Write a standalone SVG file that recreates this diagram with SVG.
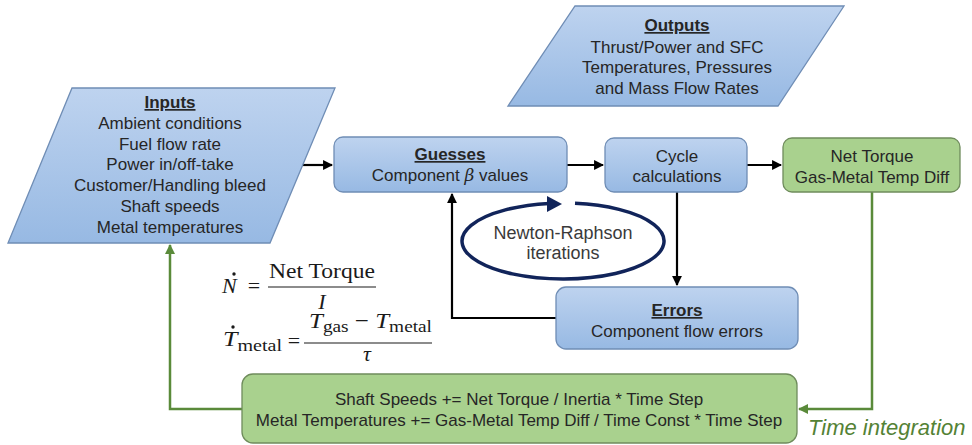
<svg xmlns="http://www.w3.org/2000/svg" width="972" height="445" viewBox="0 0 972 445">
<style>
.t{font-family:"Liberation Sans",Arial,sans-serif;font-size:17px;fill:#262626;text-anchor:middle}
.b{font-weight:bold;text-decoration:underline}
.blue{fill:url(#gb);stroke:#6f8db5;stroke-width:1.3}
.green{fill:#a9d18e;stroke:#6f8c5c;stroke-width:1.3}
.k{fill:none;stroke:#000;stroke-width:2.2}
.g{fill:none;stroke:#5a8a3a;stroke-width:2.5}
.m{font-family:"Liberation Serif","Times New Roman",serif;font-size:22px;fill:#1a1a1a}
.i{font-style:italic}
.s{font-size:17px}
</style>
<defs>
<linearGradient id="gb" x1="0" y1="0" x2="0" y2="1">
<stop offset="0" stop-color="#bed3ef"/>
<stop offset="1" stop-color="#97b9e3"/>
</linearGradient>
<marker id="ak" viewBox="0 0 10 10" refX="9" refY="5" markerWidth="4.5" markerHeight="4.5" orient="auto" markerUnits="strokeWidth">
<path d="M0,0 L10,5 L0,10 z" fill="#000"/>
</marker>
<marker id="ag" viewBox="0 0 10 10" refX="9" refY="5" markerWidth="4" markerHeight="4" orient="auto" markerUnits="strokeWidth">
<path d="M0,0 L10,5 L0,10 z" fill="#5a8a3a"/>
</marker>
</defs>
<rect width="972" height="445" fill="#fff"/>

<g id="connectors">
<path class="k" d="M300,165 H332" marker-end="url(#ak)"/>
<path class="k" d="M567,165 H603" marker-end="url(#ak)"/>
<path class="k" d="M747,165 H781" marker-end="url(#ak)"/>
<path class="k" d="M677,192 V285" marker-end="url(#ak)"/>
<path class="k" d="M556,318 H452 V194" marker-end="url(#ak)"/>
<path class="g" d="M872,192 V409 H799" marker-end="url(#ag)"/>
<path class="g" d="M242,409 H170 V245" marker-end="url(#ag)"/>
</g>

<g id="inputs">
<polygon class="blue" points="72,88 335,88 270,243 8,243"/>
<text class="t b" x="170" y="108">Inputs</text>
<text class="t" x="170" y="129">Ambient conditions</text>
<text class="t" x="170" y="150">Fuel flow rate</text>
<text class="t" x="170" y="170">Power in/off-take</text>
<text class="t" x="170" y="191">Customer/Handling bleed</text>
<text class="t" x="170" y="212">Shaft speeds</text>
<text class="t" x="170" y="233">Metal temperatures</text>
</g>

<g id="outputs">
<polygon class="blue" points="575,6 844,6 778,106 508,106"/>
<text class="t b" x="677" y="31">Outputs</text>
<text class="t" x="677" y="53">Thrust/Power and SFC</text>
<text class="t" x="677" y="73">Temperatures, Pressures</text>
<text class="t" x="677" y="94">and Mass Flow Rates</text>
</g>

<g id="guesses">
<rect class="blue" x="334" y="137" width="233" height="55" rx="9"/>
<text class="t b" x="450" y="160">Guesses</text>
<text class="t" x="450" y="181">Component <tspan style="font-family:'DejaVu Serif',serif;font-style:italic">β</tspan> values</text>
</g>

<g id="cycle">
<rect class="blue" x="605" y="138" width="142" height="54" rx="9"/>
<text class="t" x="677" y="162">Cycle</text>
<text class="t" x="677" y="182">calculations</text>
</g>

<g id="nettorque">
<rect class="green" x="783" y="138" width="177" height="54" rx="9"/>
<text class="t" x="872" y="162">Net Torque</text>
<text class="t" x="872" y="183">Gas-Metal Temp Diff</text>
</g>

<g id="errors">
<rect class="blue" x="556" y="287" width="242" height="62" rx="10"/>
<text class="t b" x="677" y="316">Errors</text>
<text class="t" x="677" y="337">Component flow errors</text>
</g>

<g id="newton">
<path d="M575,203.3 A101,38 0 1 1 549,203.4" fill="none" stroke="#11245a" stroke-width="3.5"/>
<polygon points="562,204 547,196 547,212" fill="#11245a"/>
<text x="563" y="239" style="font-family:'Liberation Sans',Arial,sans-serif;font-size:18px;fill:#3a3a3a;text-anchor:middle">Newton-Raphson</text>
<text x="563" y="259" style="font-family:'Liberation Sans',Arial,sans-serif;font-size:18px;fill:#3a3a3a;text-anchor:middle">iterations</text>
</g>

<g id="integration">
<rect class="green" x="242" y="374" width="555" height="69" rx="11"/>
<text class="t" x="519" y="405">Shaft Speeds += Net Torque / Inertia * Time Step</text>
<text class="t" x="519" y="426">Metal Temperatures += Gas-Metal Temp Diff / Time Const * Time Step</text>
<text x="808" y="435" style="font-family:'Liberation Sans',Arial,sans-serif;font-size:22px;font-style:italic;fill:#548235">Time integration</text>
</g>

<g id="equations">
<text class="m i" x="222" y="293">N</text>
<circle cx="234" cy="274" r="1.7" fill="#1a1a1a"/>
<text class="m" x="254" y="293" text-anchor="middle">=</text>
<line x1="268" y1="287" x2="376" y2="287" stroke="#1a1a1a" stroke-width="1.2"/>
<text class="m" x="322" y="278" text-anchor="middle" textLength="106" lengthAdjust="spacingAndGlyphs">Net Torque</text>
<text class="m i" x="322" y="309" text-anchor="middle">I</text>

<text class="m" x="223" y="346" textLength="59" lengthAdjust="spacingAndGlyphs"><tspan class="i">T</tspan><tspan class="s" dy="5">metal</tspan></text>
<circle cx="233" cy="327" r="1.7" fill="#1a1a1a"/>
<text class="m" x="294" y="348" text-anchor="middle">=</text>
<line x1="304" y1="343" x2="432" y2="343" stroke="#1a1a1a" stroke-width="1.2"/>
<text class="m" x="309" y="328" textLength="123" lengthAdjust="spacingAndGlyphs"><tspan class="i">T</tspan><tspan class="s" dy="4">gas</tspan><tspan dy="-4"> − </tspan><tspan class="i">T</tspan><tspan class="s" dy="4">metal</tspan></text>
<text class="m i" x="367" y="361" text-anchor="middle">τ</text>
</g>
</svg>
